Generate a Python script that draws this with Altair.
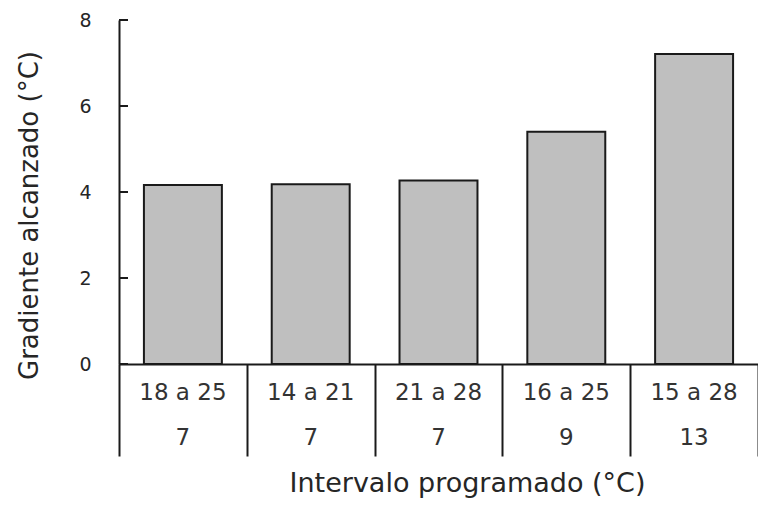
import altair as alt
import pandas as pd

categories = ["18 a 25", "14 a 21", "21 a 28", "16 a 25", "15 a 28"]
second_row = ["7", "7", "7", "9", "13"]
gradient = [4.16, 4.18, 4.27, 5.40, 7.21]
y_ticks = [0, 2, 4, 6, 8]

df = pd.DataFrame({"cat": categories, "row2": second_row, "val": gradient})
ticks_df = pd.DataFrame({"t": y_ticks})

W, H = 639, 344
FONT = "DejaVu Sans"
LINE = "#1a1a1a"

xenc = alt.X(
    "cat:N",
    sort=None,
    scale=alt.Scale(paddingInner=0, paddingOuter=0),
    axis=alt.Axis(
        labels=False,
        tickBand="extent",
        tickSize=92,
        tickColor=LINE,
        tickWidth=2,
        domainColor=LINE,
        domainWidth=2,
        title="Intervalo programado (°C)",
        titleX=348,
        titleY=119,
        titleBaseline="middle",
        titleAlign="center",
        titleFont=FONT,
        titleFontSize=27,
        titleFontWeight="normal",
        titleColor="#262626",
    ),
)

yscale = alt.Scale(domain=[0, 8], nice=False)

bars = alt.Chart(df).mark_bar(
    width=alt.RelativeBandSize(0.61),
    fill="#BFBFBF",
    stroke=LINE,
    strokeWidth=2,
).encode(
    x=xenc,
    y=alt.Y(
        "val:Q",
        scale=yscale,
        axis=alt.Axis(
            values=y_ticks,
            tickSize=0,
            labelPadding=28,
            labelFont=FONT,
            labelFontSize=19,
            labelColor="#262626",
            domainColor=LINE,
            domainWidth=2,
            grid=False,
            title="Gradiente alcanzado (°C)",
            titleX=-90,
            titleY=195,
            titleAngle=270,
            titleBaseline="middle",
            titleAlign="center",
            titleFont=FONT,
            titleFontSize=26,
            titleFontWeight="normal",
            titleColor="#262626",
        ),
    ),
)

yticks = alt.Chart(ticks_df).mark_rule(color=LINE, strokeWidth=2).encode(
    y=alt.Y("t:Q", scale=yscale),
    x=alt.value(0),
    x2=alt.value(9),
)

row1 = alt.Chart(df).mark_text(
    font=FONT, fontSize=23, color="#333333", baseline="middle"
).encode(x=alt.X("cat:N", sort=None), y=alt.value(373), text="cat:N")

row2 = alt.Chart(df).mark_text(
    font=FONT, fontSize=23, color="#333333", baseline="middle"
).encode(x=alt.X("cat:N", sort=None), y=alt.value(418), text="row2:N")

chart = alt.layer(bars, yticks, row1, row2).properties(
    width=W,
    height=H,
    autosize=alt.AutoSizeParams(type="none"),
    padding={"left": 111, "top": 12, "right": 0, "bottom": 136},
).configure_view(stroke=None)

chart.save("out.html", embed_options={"renderer": "svg", "actions": False})
